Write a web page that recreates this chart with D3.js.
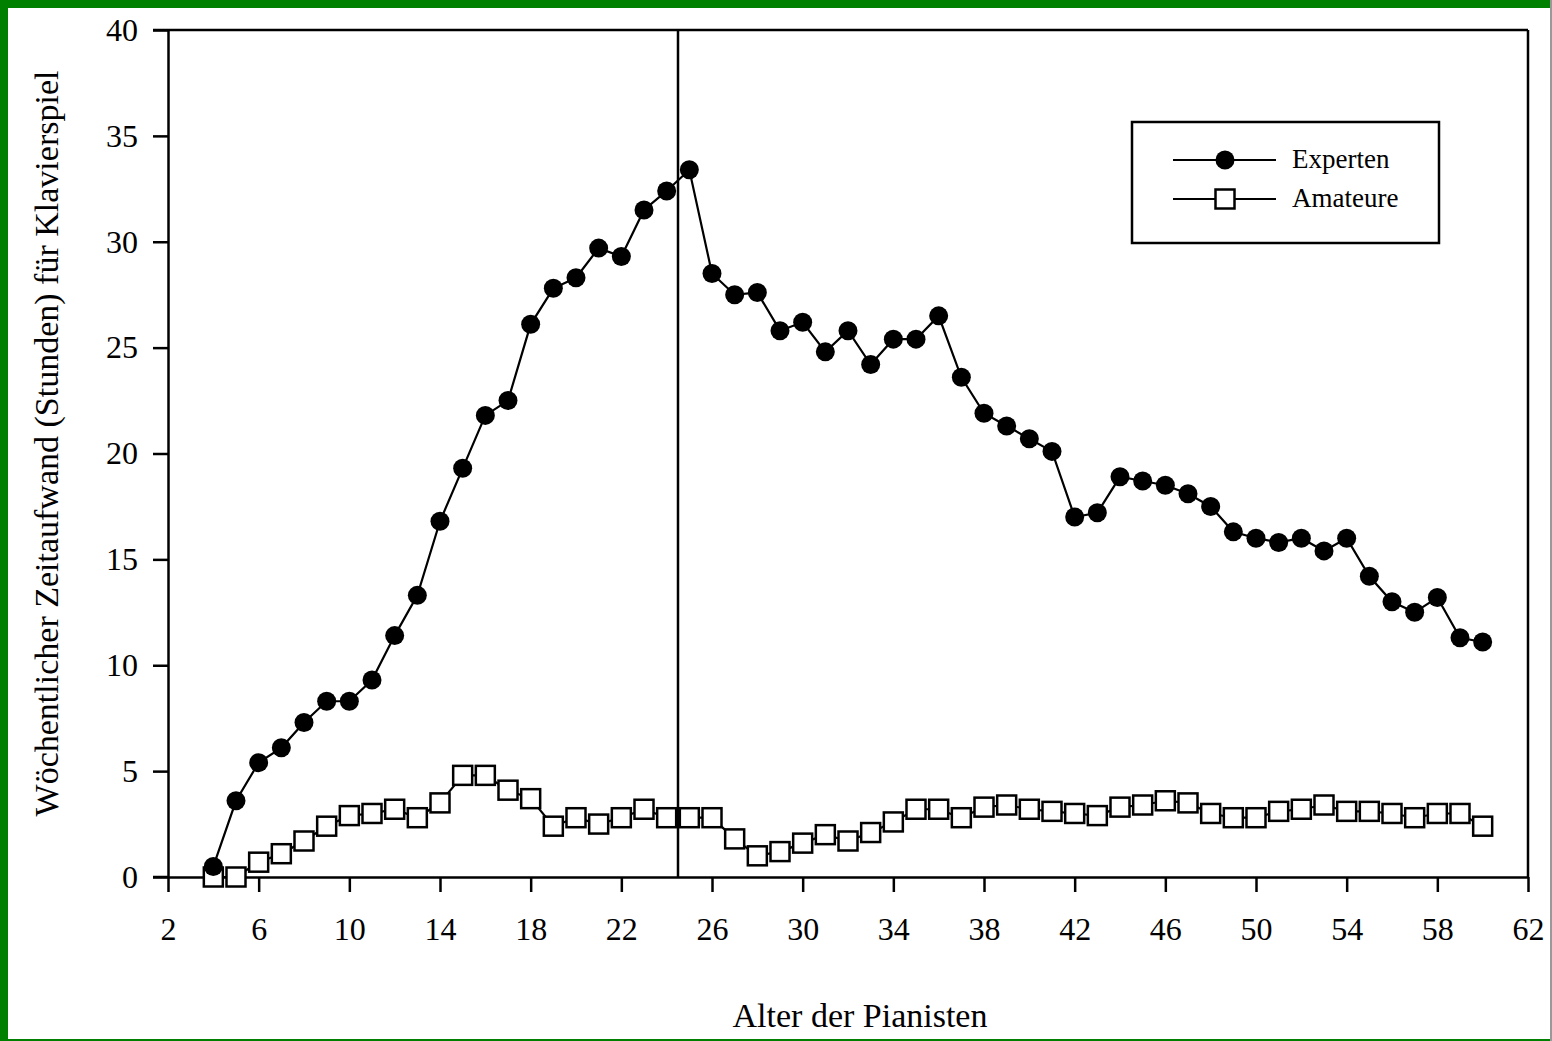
<html>
<head>
<meta charset="utf-8">
<script src="https://cdn.jsdelivr.net/npm/d3@7"></script>
<style>
  body { margin: 0; background: #fff; }
  svg text { font-family: "Liberation Serif", "Times New Roman", serif; fill: #000; }
</style>
</head>
<body>
<svg id="chart" width="1552" height="1041"></svg>
<script>

// ages (years), one point per year
const ages = d3.range(4, 61);

// weekly hours of piano practice
const experten = [0.5, 3.6, 5.4, 6.1, 7.3, 8.3, 8.3, 9.3, 11.4, 13.3,
    16.8, 19.3, 21.8, 22.5, 26.1, 27.8, 28.3, 29.7, 29.3, 31.5,
    32.4, 33.4, 28.5, 27.5, 27.6, 25.8, 26.2, 24.8, 25.8, 24.2,
    25.4, 25.4, 26.5, 23.6, 21.9, 21.3, 20.7, 20.1, 17.0, 17.2,
    18.9, 18.7, 18.5, 18.1, 17.5, 16.3, 16.0, 15.8, 16.0, 15.4,
    16.0, 14.2, 13.0, 12.5, 13.2, 11.3, 11.1];

const amateure = [0.0, 0.0, 0.7, 1.1, 1.7, 2.4, 2.9, 3.0, 3.2, 2.8,
    3.5, 4.8, 4.8, 4.1, 3.7, 2.4, 2.8, 2.5, 2.8, 3.2,
    2.8, 2.8, 2.8, 1.8, 1.0, 1.2, 1.6, 2.0, 1.7, 2.1,
    2.6, 3.2, 3.2, 2.8, 3.3, 3.4, 3.2, 3.1, 3.0, 2.9,
    3.3, 3.4, 3.6, 3.5, 3.0, 2.8, 2.8, 3.1, 3.2, 3.4,
    3.1, 3.1, 3.0, 2.8, 3.0, 3.0, 2.4];

const xTicks = d3.range(2, 63, 4);
const yTicks = d3.range(0, 41, 5);
const splitAge = 24.5;

const seriesNames = ["Experten", "Amateure"];

const svg = d3.select("#chart");
const W = 1552, H = 1041;

// green frame
svg.append("rect").attr("x", 0).attr("y", 0).attr("width", W).attr("height", H).attr("fill", "#fff");
svg.append("rect").attr("x", 0).attr("y", 0).attr("width", W).attr("height", 8).attr("fill", "#008000");
svg.append("rect").attr("x", 0).attr("y", 0).attr("width", 8).attr("height", H).attr("fill", "#008000");
svg.append("rect").attr("x", 0).attr("y", H - 2).attr("width", W).attr("height", 2).attr("fill", "#008000");
svg.append("rect").attr("x", W - 2).attr("y", 0).attr("width", 2).attr("height", H).attr("fill", "#999");

const margin = { left: 168, right: 24, top: 30, bottom: 164 };
const x = d3.scaleLinear().domain([2, 62]).range([margin.left, W - margin.right]);
const y = d3.scaleLinear().domain([0, 40]).range([H - margin.bottom, margin.top]);

// axes
const xAxis = svg.append("g")
    .attr("transform", `translate(0, ${y(0)})`)
    .call(d3.axisBottom(x).tickValues(xTicks).tickSize(15).tickSizeOuter(0).tickPadding(25));

const yAxis = svg.append("g")
    .attr("transform", `translate(${x(2)}, 0)`)
    .call(d3.axisLeft(y).tickValues(yTicks).tickSize(15).tickSizeOuter(0).tickPadding(15));

[xAxis, yAxis].forEach(g => {
    g.select(".domain").attr("stroke", "#000").attr("stroke-width", 2.5);
    g.selectAll(".tick line").attr("stroke", "#000").attr("stroke-width", 2.5);
    g.selectAll(".tick text").attr("font-size", 32).attr("font-family", "Liberation Serif");
});

// extend bottom and top lines left to tick length, top and right frame
svg.append("line").attr("x1", x(2) - 15).attr("x2", x(2)).attr("y1", y(0)).attr("y2", y(0))
    .attr("stroke", "#000").attr("stroke-width", 2.5);
svg.append("line").attr("x1", x(2) - 15).attr("x2", x(62)).attr("y1", y(40)).attr("y2", y(40))
    .attr("stroke", "#000").attr("stroke-width", 2.5);
svg.append("line").attr("x1", x(62)).attr("x2", x(62)).attr("y1", y(40)).attr("y2", y(0))
    .attr("stroke", "#000").attr("stroke-width", 2.5);

// vertical split line
svg.append("line").attr("x1", x(splitAge)).attr("x2", x(splitAge)).attr("y1", y(40)).attr("y2", y(0))
    .attr("stroke", "#000").attr("stroke-width", 2.5);

// axis titles
svg.append("text")
    .attr("x", 860).attr("y", 1027)
    .attr("text-anchor", "middle")
    .attr("font-size", 34)
    .text("Alter der Pianisten");

svg.append("text")
    .attr("transform", `translate(58, ${y(20) - 10}) rotate(-90)`)
    .attr("text-anchor", "middle")
    .attr("font-size", 34)
    .text("Wöchentlicher Zeitaufwand (Stunden) für Klavierspiel");

// lines
const line = d3.line().x((d, i) => x(ages[i])).y(d => y(d));

svg.append("path").datum(experten).attr("d", line)
    .attr("fill", "none").attr("stroke", "#000").attr("stroke-width", 2.2);
svg.append("path").datum(amateure).attr("d", line)
    .attr("fill", "none").attr("stroke", "#000").attr("stroke-width", 2.2);

// markers
svg.selectAll(".amat")
    .data(amateure)
    .enter()
    .append("rect")
    .attr("class", "amat")
    .attr("x", (d, i) => x(ages[i]) - 9.5)
    .attr("y", d => y(d) - 9.5)
    .attr("width", 19)
    .attr("height", 19)
    .attr("fill", "#fff")
    .attr("stroke", "#000")
    .attr("stroke-width", 2.5);

svg.selectAll(".exp")
    .data(experten)
    .enter()
    .append("circle")
    .attr("class", "exp")
    .attr("cx", (d, i) => x(ages[i]))
    .attr("cy", d => y(d))
    .attr("r", 9.5)
    .attr("fill", "#000");

// legend
const legend = svg.append("g");
legend.append("rect")
    .attr("x", 1132).attr("y", 122).attr("width", 307).attr("height", 121)
    .attr("fill", "#fff").attr("stroke", "#000").attr("stroke-width", 2.5);

seriesNames.forEach((name, i) => {
    const ly = 160 + i * 39;
    legend.append("line").attr("x1", 1173).attr("x2", 1276).attr("y1", ly).attr("y2", ly)
        .attr("stroke", "#000").attr("stroke-width", 2.2);
    if (i === 0) {
        legend.append("circle").attr("cx", 1225).attr("cy", ly).attr("r", 9.5).attr("fill", "#000");
    } else {
        legend.append("rect").attr("x", 1215.5).attr("y", ly - 9.5).attr("width", 19).attr("height", 19)
            .attr("fill", "#fff").attr("stroke", "#000").attr("stroke-width", 2.5);
    }
    legend.append("text").attr("x", 1292).attr("y", ly + 8).attr("font-size", 27).text(name);
});

</script>
</body>
</html>
